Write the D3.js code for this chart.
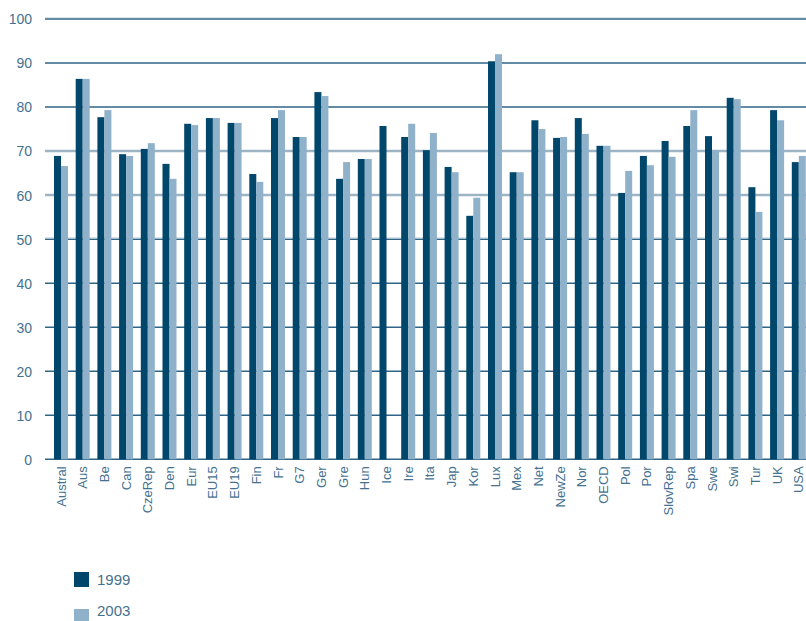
<!DOCTYPE html>
<html><head><meta charset="utf-8">
<script src="https://cdn.jsdelivr.net/npm/d3@7"></script>
<style>
html,body{margin:0;padding:0;background:#fff;}
svg{display:block;font-family:"Liberation Sans",Arial,sans-serif;}
</style></head>
<body><svg id="c" width="806" height="621"></svg>
<script>
const categories = ["Austral","Aus","Be","Can","CzeRep","Den","Eur","EU15","EU19","Fin","Fr","G7","Ger","Gre","Hun","Ice","Ire","Ita","Jap","Kor","Lux","Mex","Net","NewZe","Nor","OECD","Pol","Por","SlovRep","Spa","Swe","Swi","Tur","UK","USA"];
const values1999 = [68.9,86.4,77.7,69.3,70.5,67.1,76.2,77.5,76.4,64.8,77.5,73.2,83.4,63.7,68.2,75.7,73.2,70.2,66.4,55.3,90.4,65.2,77.0,73.0,77.5,71.2,60.5,68.9,72.3,75.7,73.4,82.1,61.8,79.3,67.5];
const values2003 = [66.6,86.4,79.3,68.9,71.8,63.7,75.9,77.5,76.4,63.0,79.3,73.2,82.5,67.5,68.2,null,76.2,74.1,65.2,59.4,92.0,65.2,75.0,73.2,73.9,71.2,65.5,66.8,68.7,79.3,70.2,81.8,56.2,77.0,68.9];
const seriesNames = ["1999","2003"];
const yTicks = [0,10,20,30,40,50,60,70,80,90,100];

const colors = ["#00476b","#8fb1ca"];
const textColor = "#44718f";
const svg = d3.select("#c");

const x = d3.scaleBand().domain(categories).range([50.15, 50.15 + 35*21.7]).paddingInner(0.355).paddingOuter(0.1775);
const x1 = d3.scaleBand().domain(seriesNames).range([0, x.bandwidth()]);
const y = d3.scaleLinear().domain([0,100]).range([459.3, 19]);

// gridlines
const grid = svg.append("g");
yTicks.forEach(t => {
  const light = (t === 60 || t === 70);
  grid.append("line").attr("x1",45).attr("x2",806).attr("y1",y(t)).attr("y2",y(t))
    .attr("stroke", light ? "#9db4c4" : "#2f6587")
    .attr("stroke-width", light ? 2.5 : 1.5);
  if (t === 50) {
    grid.append("line").attr("x1",45).attr("x2",806).attr("y1",y(t)-1.3).attr("y2",y(t)-1.3)
      .attr("stroke","#c5d3dd").attr("stroke-width",1);
  }
  if (t === 100) {
    grid.append("line").attr("x1",45).attr("x2",806).attr("y1",y(t)-1.5).attr("y2",y(t)-1.5)
      .attr("stroke","#dde6ee").attr("stroke-width",1);
  }
});

// y labels
const yAxis = d3.axisLeft(y).tickValues(yTicks).tickSize(0).tickPadding(0);
const ya = svg.append("g").attr("transform","translate(32,0)").call(yAxis);
ya.select(".domain").remove();
ya.selectAll("text").attr("fill",textColor).style("font-size","14px").attr("dy","0.35em");

// bars
const series = [values1999, values2003];
const groups = svg.append("g");
series.forEach((vals, si) => {
  groups.append("g").selectAll("rect")
    .data(categories.map((c,i)=>({c, v: vals[i]})).filter(d => d.v != null))
    .join("rect")
    .attr("x", d => x(d.c) + x1(seriesNames[si]))
    .attr("width", x1.bandwidth())
    .attr("y", d => y(d.v))
    .attr("height", d => y(0) - y(d.v))
    .attr("fill", colors[si]);
});

// x labels
const xAxis = d3.axisBottom(x).tickSize(0).tickPadding(0);
const xa = svg.append("g").attr("transform",`translate(0,${y(0)})`).call(xAxis);
xa.select(".domain").remove();
xa.selectAll("text")
  .attr("fill",textColor).style("font-size","13px")
  .attr("text-anchor","end")
  .attr("transform","rotate(-90)")
  .attr("x",-7).attr("y",0).attr("dy","0.35em");

// legend
const leg = svg.append("g");
seriesNames.forEach((s,i) => {
  const yy = 572 + i*37;
  leg.append("rect").attr("x",74).attr("y",yy).attr("width",15).attr("height",15).attr("fill",colors[i]);
  leg.append("text").attr("x",97).attr("y", i === 0 ? 584.5 : 616).attr("fill",textColor).style("font-size","15px").text(s);
});
</script></body></html>
